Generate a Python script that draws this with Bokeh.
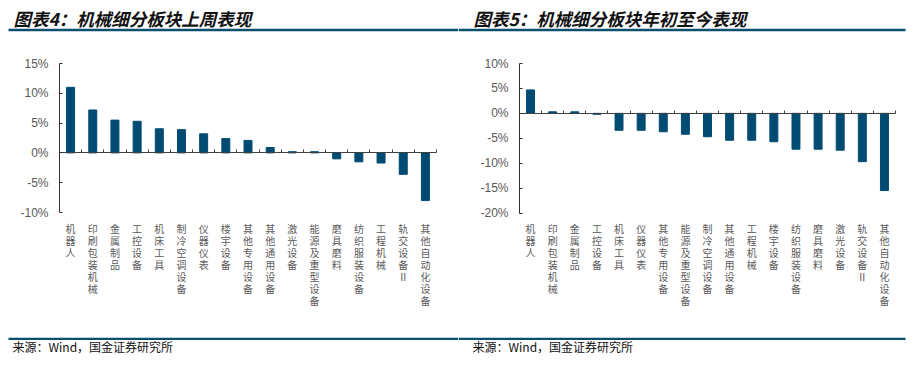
from bokeh.plotting import figure
from bokeh.models import (Range1d, LinearAxis, FixedTicker, PrintfTickFormatter,
                          Label, BoxAnnotation, CustomJSTickFormatter, ColumnDataSource)
from bokeh.layouts import row
from bokeh.embed import file_html
from bokeh.resources import INLINE

# ---- data ----
cats_week = ["机器人", "印刷包装机械", "金属制品", "工控设备", "机床工具", "制冷空调设备", "仪器仪表",
             "楼宇设备", "其他专用设备", "其他通用设备", "激光设备", "能源及重型设备", "磨具磨料",
             "纺织服装设备", "工程机械", "轨交设备Ⅱ", "其他自动化设备"]
vals_week = [11.0, 7.2, 5.5, 5.3, 4.05, 3.9, 3.2, 2.4, 2.1, 0.9, 0.2, 0.2, -1.0, -1.5, -1.7, -3.6, -8.0]

cats_ytd = ["机器人", "印刷包装机械", "金属制品", "工控设备", "机床工具", "仪器仪表", "其他专用设备",
            "能源及重型设备", "制冷空调设备", "其他通用设备", "工程机械", "楼宇设备", "纺织服装设备",
            "磨具磨料", "激光设备", "轨交设备Ⅱ", "其他自动化设备"]
vals_ytd = [4.7, 0.3, 0.3, -0.2, -3.4, -3.4, -3.7, -4.2, -4.7, -5.4, -5.4, -5.7, -7.2, -7.2, -7.4, -9.7, -15.5]

title_week = "图表4：机械细分板块上周表现"
title_ytd = "图表5：机械细分板块年初至今表现"
source_text = "来源：Wind，国金证券研究所"

y_week = (-10, 15)
y_ytd = (-20, 10)

BAR = "#004B72"
LINE = "#0B4F6F"
CJK = "Noto Sans CJK SC"
H = 358


def panel(cats, vals, yr, title, W, PL, PR, PT, PB, line_left, line_right, text_x):
    n = len(cats)
    xs = [i + 0.5 for i in range(n)]
    labels = ["\n".join(c) for c in cats]
    ymin, ymax = yr
    sx = n / (PR - PL)
    sy = (ymax - ymin) / (PB - PT)
    p = figure(x_range=Range1d(-PL * sx, n + (W - PR) * sx),
               y_range=Range1d(ymin - (H - PB) * sy, ymax + PT * sy),
               width=W, height=H, output_backend="svg", toolbar_location=None,
               x_axis_location=None, y_axis_location=None,
               min_border_left=0, min_border_right=0, min_border_top=0, min_border_bottom=0)
    p.outline_line_color = None
    p.background_fill_color = "white"
    p.border_fill_color = "white"
    p.grid.visible = False

    src = ColumnDataSource(dict(x=xs, top=vals))
    p.vbar(x="x", top="top", width=0.36, color=BAR, source=src)

    # category labels
    xa = LinearAxis(fixed_location=ymin, bounds=(0, n), ticker=FixedTicker(ticks=xs),
                    major_label_overrides={x: lab for x, lab in zip(xs, labels)},
                    axis_line_color=None, major_tick_line_color=None, minor_tick_line_color=None,
                    major_tick_out=0, major_tick_in=0, major_label_standoff=8,
                    major_label_text_font=CJK, major_label_text_font_size="10px",
                    major_label_text_color="#5a5a5a", major_label_text_line_height=0.8)
    p.add_layout(xa, "below")

    # zero axis with boundary ticks
    zax = LinearAxis(fixed_location=0, bounds=(0, n),
                     ticker=FixedTicker(ticks=list(range(n + 1))),
                     formatter=CustomJSTickFormatter(code="return ''"),
                     major_tick_in=3, major_tick_out=0, minor_tick_line_color=None,
                     axis_line_color="#404040", major_tick_line_color="#404040")
    p.add_layout(zax, "below")

    ya = LinearAxis(fixed_location=0, bounds=(ymin, ymax),
                    ticker=FixedTicker(ticks=list(range(ymin, ymax + 1, 5))),
                    formatter=PrintfTickFormatter(format="%d%%"),
                    axis_line_color="#303030", major_tick_line_color="#303030",
                    major_tick_in=3, major_tick_out=0, minor_tick_line_color=None,
                    major_label_standoff=11, major_label_text_font="Liberation Sans",
                    major_label_text_font_size="12px", major_label_text_color="#595959")
    p.add_layout(ya, "left")

    # title, rules, source (screen units: frame == canvas, y from bottom)
    p.add_layout(Label(x=text_x, y=H - 17.5, x_units="screen", y_units="screen", text=title,
                       text_font=CJK, text_font_size="17.5px", text_font_style="bold italic",
                       text_color="#111111", text_baseline="middle"))
    p.add_layout(BoxAnnotation(left=line_left, right=line_right, top=H - 28.2, bottom=H - 30.7,
                               left_units="screen", right_units="screen",
                               top_units="screen", bottom_units="screen",
                               fill_color=LINE, fill_alpha=1, line_color=None))
    p.add_layout(BoxAnnotation(left=line_left, right=line_right, top=H - 337.3, bottom=H - 339.6,
                               left_units="screen", right_units="screen",
                               top_units="screen", bottom_units="screen",
                               fill_color=LINE, fill_alpha=1, line_color=None))
    p.add_layout(Label(x=text_x - 1, y=H - 346, x_units="screen", y_units="screen", text=source_text,
                       text_font=CJK, text_font_size="12px", text_color="#111111",
                       text_baseline="middle"))
    return p


p1 = panel(cats_week, vals_week, y_week, title_week, 458, 59, 436, 63, 212, 8, 458, 13)
p2 = panel(cats_ytd, vals_ytd, y_ytd, title_ytd, 450, 61, 437, 63, 212.5, 0, 447, 15)

layout = row(p1, p2)
open("out.html", "w").write(file_html(layout, INLINE))
